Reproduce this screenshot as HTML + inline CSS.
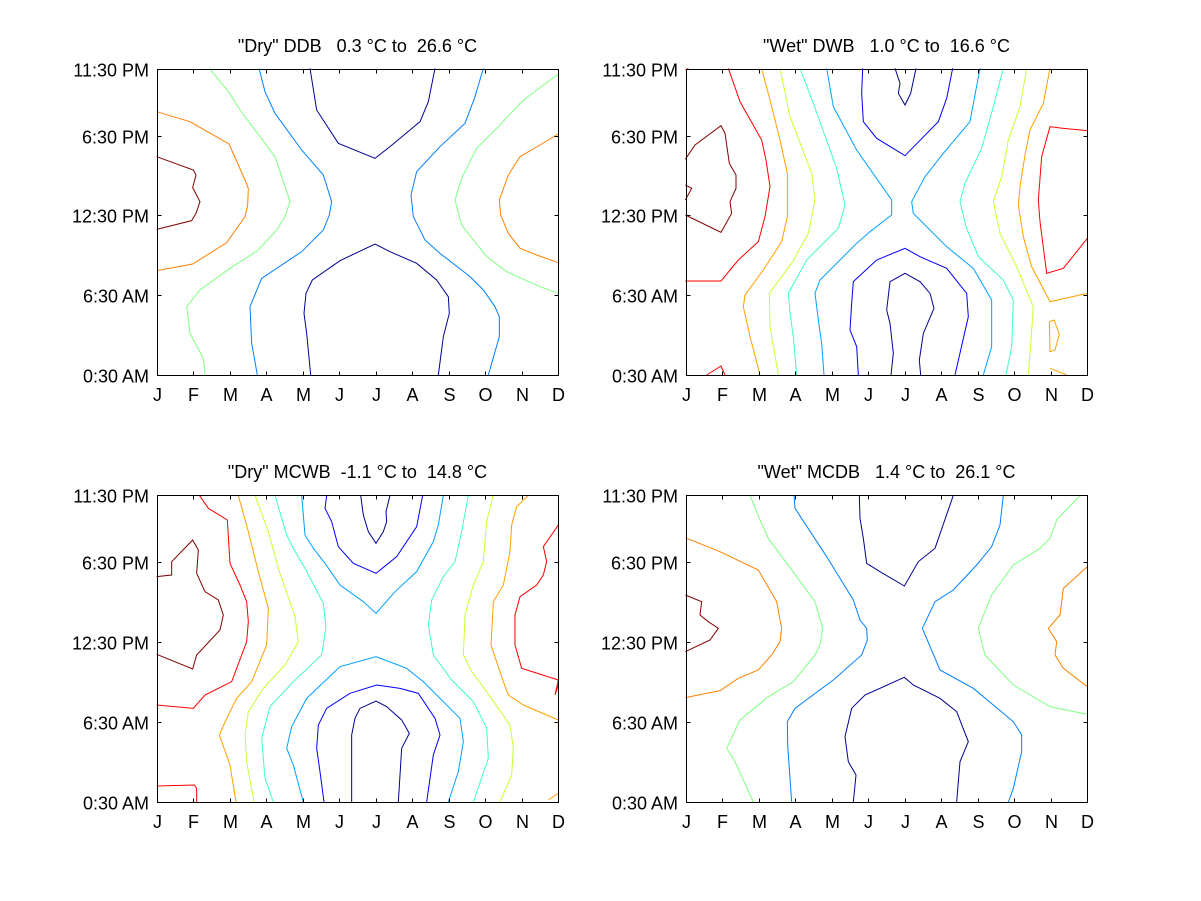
<!DOCTYPE html>
<html><head><meta charset="utf-8"><style>
html,body{margin:0;padding:0;background:#fff;}
svg{display:block;font-family:"Liberation Sans",Arial,sans-serif;}
text{white-space:pre;}
</style></head><body>
<svg id="s" width="1201" height="901" viewBox="0 0 1201 901" xmlns="http://www.w3.org/2000/svg"></svg>
<script>
const S=document.getElementById('s');const NS='http://www.w3.org/2000/svg';
function el(t,a,txt){const e=document.createElementNS(NS,t);for(const k in a)e.setAttribute(k,a[k]);if(txt!==undefined)e.textContent=txt;S.appendChild(e);return e;}
const panels=[
 {L:157,R:558,T:69,B:375,ox:150,oy:60,title:'"Dry" DDB   0.3 °C to  26.6 °C',c:[
  ['#800000','20,290 130,330 138,345 128,383 150,425 138,460 125,482 20,508'],
  ['#ff8000','20,155 120,185 237,252 285,360 295,385 293,435 285,470 230,548 128,612 20,632'],
  ['#ff8000','1225,222 1170,255 1110,290 1075,345 1048,420 1052,465 1075,520 1110,565 1160,585 1225,608'],
  ['#80ff80','178,25 237,97 270,150 375,290 420,425 405,470 380,510 325,570 240,625 150,690 110,740 120,820 160,895 165,945'],
  ['#80ff80','1225,42 1160,90 1115,125 1045,200 980,265 935,355 915,420 935,495 1010,590 1070,635 1170,680 1225,700'],
  ['#0080ff','327,25 345,95 375,160 455,270 520,345 545,425 538,465 520,510 455,575 335,655 300,740 305,850 322,945'],
  ['#0080ff','1000,25 975,110 945,190 870,260 800,335 783,405 790,470 825,540 870,580 960,650 1000,690 1035,740 1048,770 1048,830 1015,945'],
  ['#000090','480,25 500,150 565,250 675,295 720,260 810,185 835,125 855,25'],
  ['#000090','482,945 470,820 462,760 468,700 487,660 570,602 675,552 720,575 800,610 860,660 895,710 898,760 880,830 865,945']]},
 {L:686,R:1087,T:69,B:375,ox:680,oy:60,title:'"Wet" DWB   1.0 °C to  16.6 °C',c:[
  ['#800000','16,298 45,255 123,197 135,220 148,310 168,345 168,385 150,425 155,460 123,517 16,465'],
  ['#800000','16,375 35,385 16,420'],
  ['#ff0000','145,25 180,125 245,240 258,300 270,380 255,470 235,545 175,600 123,663 16,663'],
  ['#ff0000','80,945 123,918 135,945'],['#ff0000','16,30 25,25'],
  ['#ff0000','1222,212 1150,205 1110,200 1085,290 1075,420 1080,485 1100,640 1150,625 1222,535'],
  ['#ffa000','245,25 270,120 300,240 322,340 322,470 305,545 250,630 195,705 190,740 210,830 240,945'],
  ['#ffa000','1110,25 1090,130 1050,210 1035,285 1020,380 1015,435 1030,530 1055,620 1110,725 1222,700'],
  ['#ffa000','1108,785 1122,780 1138,823 1125,870 1110,875 1108,785'],['#ffa000','1110,925 1160,945'],
  ['#c8ff30','300,25 330,170 395,340 405,420 385,520 335,610 268,700 270,800 295,945'],
  ['#c8ff30','1040,25 1020,140 985,240 965,350 940,425 960,520 1010,620 1060,740 1050,880 1045,945'],
  ['#40ffc0','360,25 400,130 470,325 495,435 475,505 380,600 325,700 330,760 340,830 350,945'],
  ['#40ffc0','970,25 940,140 905,265 855,370 840,425 858,500 895,590 970,660 1000,720 995,860 978,945'],
  ['#00a0ff','440,25 460,140 530,270 600,370 635,420 635,465 570,515 530,550 420,660 405,700 415,780 425,850 432,945'],
  ['#00a0ff','900,25 870,185 790,280 735,350 695,425 700,460 800,560 880,625 935,720 935,860 910,945'],
  ['#0000ff','548,25 545,100 550,185 590,235 675,287 775,185 800,115 818,25'],
  ['#0000ff','535,945 530,860 510,810 515,730 520,665 590,600 675,565 720,590 800,625 860,700 865,770 825,945'],
  ['#000090','645,25 660,70 655,100 675,135 692,100 708,25'],
  ['#000090','633,945 640,880 630,790 620,750 630,665 675,640 720,665 750,700 762,745 730,820 718,900 722,945']]},
 {L:157,R:558,T:495,B:802,ox:150,oy:485,title:'"Dry" MCWB  -1.1 °C to  14.8 °C',c:[
  ['#800000','20,275 65,270 65,230 128,165 145,195 140,265 165,320 205,345 220,390 210,435 140,510 128,552 20,508'],
  ['#ff0000','148,31 175,70 232,105 240,235 270,300 290,350 295,410 290,470 245,590 165,630 130,670 20,660'],
  ['#ff0000','20,903 133,900 140,910 140,951'],
  ['#ff0000','1225,120 1180,185 1190,230 1180,270 1160,300 1110,335 1095,390 1095,480 1115,550 1225,585 1215,630 1225,600'],
  ['#ffa000','265,31 295,140 325,260 355,370 350,480 305,590 260,640 230,700 208,750 240,840 258,951'],
  ['#ffa000','1135,31 1100,65 1085,120 1080,200 1060,300 1030,350 1023,480 1060,590 1075,630 1120,660 1225,705 1225,740'],
  ['#ffa000','1195,945 1225,925'],
  ['#c8ff30','315,31 355,140 385,250 435,395 445,470 405,540 340,610 295,680 285,750 290,830 312,951'],
  ['#c8ff30','1030,31 1010,110 1000,230 970,300 945,390 940,510 965,560 1010,620 1080,720 1090,790 1085,870 1050,951'],
  ['#40ffc0','375,31 410,150 430,190 465,250 520,355 528,425 515,510 430,590 360,665 335,760 345,880 370,951'],
  ['#40ffc0','955,31 935,140 915,230 880,275 845,345 835,420 850,510 905,585 970,650 1010,730 1015,820 970,951'],
  ['#00a0ff','455,31 465,150 490,190 525,235 570,300 640,350 678,385 735,320 800,260 850,170 865,120 880,31'],
  ['#00a0ff','460,951 430,840 410,790 425,725 470,640 570,545 678,515 770,550 820,590 930,700 940,770 925,860 895,951'],
  ['#0000ff','530,31 525,70 545,110 565,185 610,235 678,265 740,215 800,125 818,31'],
  ['#0000ff','522,951 510,860 500,790 505,720 530,670 600,625 680,600 750,610 805,625 855,700 870,750 850,810 830,951'],
  ['#000090','632,31 640,90 655,140 678,175 700,140 710,110 708,80 720,31'],
  ['#000090','605,951 605,860 605,750 615,700 630,670 678,648 710,665 755,705 778,745 755,790 745,951']]},
 {L:686,R:1087,T:495,B:802,ox:680,oy:485,title:'"Wet" MCDB   1.4 °C to  26.1 °C',c:[
  ['#800000','16,330 65,350 60,390 85,410 115,430 90,465 16,500'],
  ['#ff8000','16,158 120,200 235,255 290,350 305,430 300,470 275,510 235,555 175,580 120,617 16,638'],
  ['#ff8000','1222,245 1150,310 1140,390 1105,430 1130,470 1125,510 1150,550 1222,605'],
  ['#80ff80','210,31 238,100 265,160 350,275 405,350 428,430 420,480 405,510 340,590 265,635 180,705 140,790 165,830 220,951'],
  ['#80ff80','1200,31 1130,105 1110,160 1080,190 1000,240 935,330 895,430 915,510 1000,600 1110,665 1222,688'],
  ['#0080ff','342,31 345,70 440,215 520,345 540,405 560,430 562,465 545,510 460,585 345,670 322,710 323,780 335,951'],
  ['#0080ff','970,31 960,120 935,185 890,240 820,315 765,350 727,430 780,555 880,610 1000,710 1025,750 1025,800 1000,910 985,951'],
  ['#000090','538,31 540,100 550,160 560,235 600,260 673,303 715,230 765,190 820,31'],
  ['#000090','520,951 528,870 505,830 495,755 515,670 555,630 673,577 700,600 780,640 830,680 865,770 840,830 830,951']]}
];
const months=['J','F','M','A','M','J','J','A','S','O','N','D'];
const ylab=['0:30 AM','6:30 AM','12:30 PM','6:30 PM','11:30 PM'];
const yfr=[0,6/23,12/23,18/23,1];
for(const p of panels){
  const g=el('g',{transform:`translate(${p.ox},${p.oy}) scale(${1/3})`});
  for(const [col,pts] of p.c){const e=document.createElementNS(NS,'polyline');e.setAttribute('points',pts);e.setAttribute('fill','none');e.setAttribute('stroke',col);e.setAttribute('stroke-width','1');e.setAttribute('vector-effect','non-scaling-stroke');g.appendChild(e);}
  el('rect',{x:p.L+0.5,y:p.T+0.5,width:p.R-p.L,height:p.B-p.T,fill:'none',stroke:'#000','stroke-width':1});
  const W=p.R-p.L,H=p.B-p.T;
  for(let i=0;i<12;i++){const x=Math.round(p.L+i*W/11)+0.5;
    el('line',{x1:x,y1:p.B+0.5,x2:x,y2:p.B-3.5,stroke:'#000'});
    el('line',{x1:x,y1:p.T+0.5,x2:x,y2:p.T+4.5,stroke:'#000'});
    el('text',{x:x,y:p.B+26,'font-size':18,'text-anchor':'middle'},months[i]);}
  for(let j=0;j<5;j++){const y=Math.round(p.B-yfr[j]*H)+0.5;
    el('line',{x1:p.L+0.5,y1:y,x2:p.L+4.5,y2:y,stroke:'#000'});
    el('line',{x1:p.R+0.5,y1:y,x2:p.R-3.5,y2:y,stroke:'#000'});
    el('text',{x:p.L-8,y:y+7,'font-size':18,'text-anchor':'end'},ylab[j]);}
  el('text',{x:(p.L+p.R)/2,y:p.T-17,'font-size':18,'text-anchor':'middle'},p.title);
}
</script>
</body></html>
